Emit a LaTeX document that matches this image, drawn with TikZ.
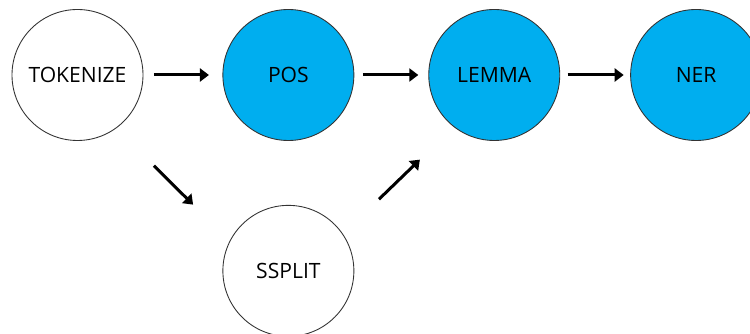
\documentclass[tikz,border=0pt]{standalone}
\usepackage{fontspec}
\setmainfont{Open Sans}
\usetikzlibrary{positioning, arrows.meta}
\definecolor{stageblue}{RGB}{0,174,239}

\begin{document}
\begin{tikzpicture}[>={Triangle[length=1.8mm, width=2.6mm]}]
\tikzstyle{stage} = [circle, minimum size=2.62cm, inner sep=0pt, draw=black!80, line width=.5pt, font=\fontsize{12}{14}\selectfont]
\tikzstyle{flow} = [->, line width=.6mm]

\useasboundingbox (-1.55, 1.5) rectangle (13.45, -5.18);

\node (tok) [stage] {TOKENIZE};
\node (pos) [stage, fill=stageblue, right=1.58cm of tok] {POS};
\node (lemma) [stage, fill=stageblue, right=1.48cm of pos] {LEMMA};
\node (ner) [stage, fill=stageblue, right=1.4cm of lemma] {NER};
\node (ssplit) [stage, below=1.28cm of pos] {SSPLIT};

\draw[flow, shorten <=.21cm, shorten >=.27cm] (tok) -- (pos);
\draw[flow, shorten <=.17cm, shorten >=.2cm] (pos) -- (lemma);
\draw[flow, shorten <=.15cm, shorten >=.13cm] (lemma) -- (ner);

\draw[flow, shorten <=1.06cm, shorten >=1.03cm] (tok.-54) -- (ssplit.153);
\draw[flow, shorten <=1cm, shorten >=.94cm] (ssplit.34) -- (lemma.232);

\end{tikzpicture}
\end{document}
